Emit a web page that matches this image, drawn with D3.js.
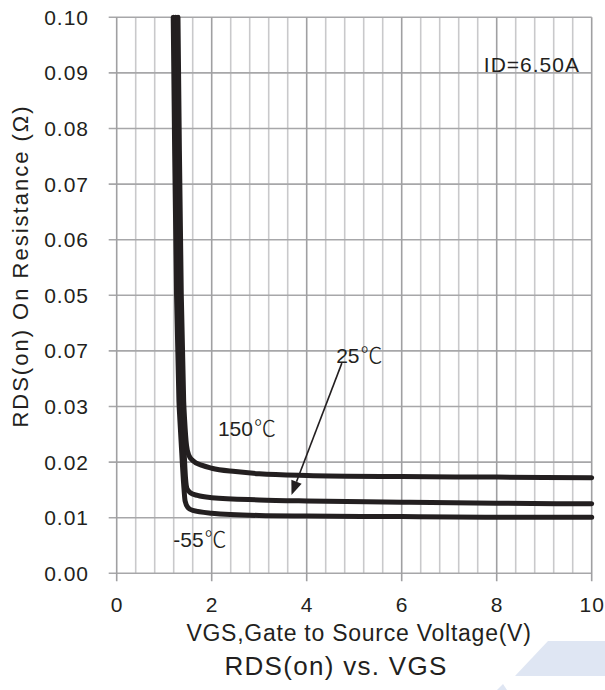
<!DOCTYPE html>
<html>
<head>
<meta charset="utf-8">
<script src="https://cdn.jsdelivr.net/npm/d3@7"></script>
<style>
  body { margin: 0; background: #fff; }
  svg { display: block; font-family: "Liberation Sans", Arial, sans-serif; }
</style>
</head>
<body>
<div id="chart-area"></div>
<script>
const X_TICKS = [0, 2, 4, 6, 8, 10];
const Y_TICKS = [0, 0.01, 0.02, 0.03, 0.04, 0.05, 0.06, 0.07, 0.08, 0.09, 0.1];
// the source sheet prints 0.07 at the 0.04 line, kept as is
const Y_TICK_LABELS = ["0.00", "0.01", "0.02", "0.03", "0.07", "0.05", "0.06", "0.07", "0.08", "0.09", "0.10"];

// [VGS (V), RDS(on) (ohm)]
const CURVE_150 = [
  [1.29, 0.1], [1.32, 0.076], [1.36, 0.05], [1.41, 0.031], [1.43, 0.0276],
  [1.47, 0.023], [1.52, 0.0212], [1.6, 0.0203], [1.8, 0.0194], [2, 0.0189],
  [2.5, 0.0183], [3, 0.0179], [4, 0.0176], [6, 0.0174], [8, 0.0173], [10, 0.0172]
];
const CURVE_25 = [
  [1.24, 0.1], [1.27, 0.076], [1.31, 0.05], [1.36, 0.031], [1.38, 0.0276],
  [1.42, 0.0216], [1.45, 0.017], [1.48, 0.0152], [1.55, 0.0145], [1.7, 0.014],
  [2, 0.0136], [3, 0.0132], [4, 0.013], [6, 0.0128], [8, 0.0126], [10, 0.0125]
];
const CURVE_M55 = [
  [1.19, 0.1], [1.22, 0.076], [1.26, 0.05], [1.31, 0.031], [1.33, 0.0276],
  [1.37, 0.0216], [1.41, 0.016], [1.44, 0.013], [1.5, 0.0118], [1.6, 0.0113],
  [2, 0.0108], [3, 0.0104], [4, 0.0103], [6, 0.0102], [8, 0.0101], [10, 0.0101]
];

const drawChart = () => {
  const WIDTH = 605;
  const HEIGHT = 690;
  const LEFT = 116.7, RIGHT = 591.7, TOP = 17.3, BOTTOM = 573.3;
  const INK = "#231f20";

  const svg = d3.select("#chart-area")
    .append("svg")
    .attr("width", WIDTH)
    .attr("height", HEIGHT);

  const x = d3.scaleLinear().domain([0, 10]).range([LEFT, RIGHT]);
  const y = d3.scaleLinear().domain([0, 0.1]).range([BOTTOM, TOP]);

  // watermark fragment bottom right
  svg.append("polygon")
    .attr("points", "548,641 605,641 605,676 515,676")
    .attr("fill", "#dfe6f3");
  svg.append("polygon")
    .attr("points", "497,690 503,684 507,690")
    .attr("fill", "#dfe6f3");

  // minor vertical grid, every 0.4 V
  const minor = d3.range(0, 26).map(i => i * 0.4).filter(v => !X_TICKS.some(t => Math.abs(t - v) < 1e-6));
  svg.append("g")
    .selectAll("line")
    .data(minor)
    .enter()
    .append("line")
    .attr("x1", d => x(d)).attr("x2", d => x(d))
    .attr("y1", y(0)).attr("y2", y(0.1))
    .attr("stroke", "#c9c9cb")
    .attr("stroke-width", 1.6);

  svg.append("g")
    .selectAll("line")
    .data(Y_TICKS)
    .enter()
    .append("line")
    .attr("x1", x(0) - 8).attr("x2", x(10))
    .attr("y1", d => y(d)).attr("y2", d => y(d))
    .attr("stroke", "#a7a7a9")
    .attr("stroke-width", 1.6);

  svg.append("g")
    .selectAll("line")
    .data(X_TICKS)
    .enter()
    .append("line")
    .attr("x1", d => x(d)).attr("x2", d => x(d))
    .attr("y1", y(0) + 8).attr("y2", y(0.1))
    .attr("stroke", "#a0a0a2")
    .attr("stroke-width", 1.6);

  // tick labels
  svg.append("g")
    .selectAll("text")
    .data(Y_TICKS)
    .enter()
    .append("text")
    .attr("x", 89)
    .attr("y", d => y(d))
    .attr("dy", "0.36em")
    .attr("text-anchor", "end")
    .attr("font-size", 21)
    .attr("letter-spacing", 1)
    .attr("fill", INK)
    .text((d, i) => Y_TICK_LABELS[i]);

  svg.append("g")
    .selectAll("text")
    .data(X_TICKS)
    .enter()
    .append("text")
    .attr("x", d => x(d) + 0.5)
    .attr("y", 612)
    .attr("text-anchor", "middle")
    .attr("font-size", 21)
    .attr("letter-spacing", 1)
    .attr("fill", INK)
    .text(d => d);

  // curves
  const line = d3.line()
    .x(d => x(d[0]))
    .y(d => y(d[1]))
    .curve(d3.curveMonotoneX);

  svg.append("g")
    .selectAll("path")
    .data([CURVE_M55, CURVE_25, CURVE_150])
    .enter()
    .append("path")
    .attr("d", line)
    .attr("fill", "none")
    .attr("stroke", INK)
    .attr("stroke-width", 5)
    .attr("stroke-linecap", "round")
    .attr("stroke-linejoin", "round");

  // 25C arrow
  const from = [x(4.74), y(0.0378)];
  const to = [x(3.68), y(0.0141)];
  const ang = Math.atan2(to[1] - from[1], to[0] - from[0]);
  const len = 14, half = 5.5;
  const bx = to[0] - len * Math.cos(ang), by = to[1] - len * Math.sin(ang);
  svg.append("line")
    .attr("x1", from[0]).attr("y1", from[1])
    .attr("x2", bx).attr("y2", by)
    .attr("stroke", INK)
    .attr("stroke-width", 1.6);
  svg.append("polygon")
    .attr("points", [
      to,
      [bx + half * Math.sin(ang), by - half * Math.cos(ang)],
      [bx - half * Math.sin(ang), by + half * Math.cos(ang)]
    ].map(p => p.join(",")).join(" "))
    .attr("fill", INK);

  const labels = [
    { t: "150", v: 2.13, r: 0.0247 },
    { t: "25", v: 4.62, r: 0.0378 },
    { t: "-55", v: 1.19, r: 0.0047 }
  ];
  const lbl = svg.append("g")
    .selectAll("text")
    .data(labels)
    .enter()
    .append("text")
    .attr("x", d => x(d.v))
    .attr("y", d => y(d.r))
    .attr("font-size", 21)
    .attr("fill", INK);
  lbl.append("tspan").text(d => d.t);
  lbl.append("tspan")
    .attr("font-family", "'Noto Sans CJK SC', sans-serif")
    .attr("font-weight", 300)
    .attr("font-size", 22)
    .attr("dx", 1)
    .text("\u2103");

  svg.append("text")
    .attr("x", 580)
    .attr("y", 72)
    .attr("text-anchor", "end")
    .attr("font-size", 21)
    .attr("letter-spacing", 1)
    .attr("fill", INK)
    .text("ID=6.50A");

  // axis titles
  svg.append("text")
    .attr("transform", "translate(28,266) rotate(-90)")
    .attr("text-anchor", "middle")
    .attr("font-size", 22)
    .attr("letter-spacing", 2)
    .attr("fill", INK)
    .text("RDS(on) On Resistance (\u03a9)");

  svg.append("text")
    .attr("x", 359)
    .attr("y", 641)
    .attr("text-anchor", "middle")
    .attr("font-size", 23)
    .attr("letter-spacing", 0.75)
    .attr("fill", INK)
    .text("VGS,Gate to Source Voltage(V)");

  svg.append("text")
    .attr("x", 336)
    .attr("y", 675)
    .attr("text-anchor", "middle")
    .attr("font-size", 26)
    .attr("letter-spacing", 1.3)
    .attr("fill", INK)
    .text("RDS(on) vs. VGS");
};

const main = () => {
  drawChart();
};
window.onload = main;
</script>
</body>
</html>
